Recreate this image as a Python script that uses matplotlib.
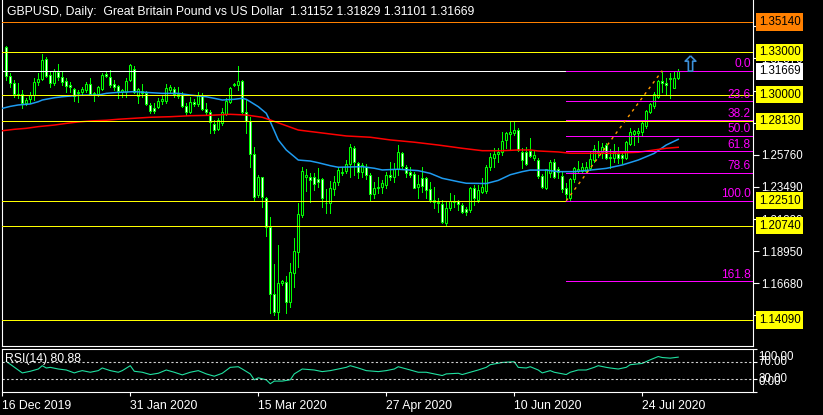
import numpy as np
import matplotlib
matplotlib.use("Agg")
import matplotlib.pyplot as plt
from matplotlib.path import Path
from matplotlib.transforms import blended_transform_factory

# daily candles, bar 1 = 17 Dec 2019 (bar 0, 16 Dec, sits on the left border)
opens = [
    1.3335, 1.3133, 1.3081, 1.3005, 1.3005, 1.2940, 1.2968, 1.2998, 1.3093, 1.3110,
    1.3250, 1.3140, 1.3081, 1.3163, 1.3123, 1.3095, 1.3069, 1.3041, 1.3010, 1.3022,
    1.3034, 1.3076, 1.3005, 1.3005, 1.3039, 1.3147, 1.3123, 1.3076, 1.3064, 1.3022,
    1.3022, 1.3104, 1.3180, 1.2991, 1.3029, 1.3010, 1.2928, 1.2909, 1.2916, 1.2954,
    1.2958, 1.3034, 1.3039, 1.3003, 1.2998, 1.2921, 1.2880, 1.2951, 1.2933, 1.2998,
    1.2897, 1.2880, 1.2793, 1.2756, 1.2800, 1.2864, 1.2951, 1.3069, 1.3069, 1.3097,
    1.2880, 1.2817, 1.2579, 1.2292, 1.2419, 1.2273, 1.2064, 1.1590, 1.1468, 1.1670,
    1.1680, 1.1538, 1.1743, 1.1891, 1.2151, 1.2421, 1.2417, 1.2417, 1.2403, 1.2403,
    1.2238, 1.2238, 1.2332, 1.2382, 1.2445, 1.2464, 1.2511, 1.2622, 1.2516, 1.2457,
    1.2492, 1.2433, 1.2297, 1.2339, 1.2351, 1.2363, 1.2433, 1.2421, 1.2473, 1.2587,
    1.2492, 1.2457, 1.2438, 1.2346, 1.2410, 1.2410, 1.2334, 1.2256, 1.2240, 1.2226,
    1.2092, 1.2198, 1.2240, 1.2249, 1.2221, 1.2193, 1.2186, 1.2339, 1.2256, 1.2315,
    1.2320, 1.2492, 1.2551, 1.2579, 1.2598, 1.2680, 1.2721, 1.2728, 1.2751, 1.2593,
    1.2598, 1.2602, 1.2556, 1.2539, 1.2426, 1.2339, 1.2445, 1.2523, 1.2475, 1.2429,
    1.2344, 1.2270, 1.2405, 1.2461, 1.2461, 1.2461, 1.2482, 1.2539, 1.2591, 1.2593,
    1.2645, 1.2563, 1.2555, 1.2581, 1.2574, 1.2551, 1.2650, 1.2721, 1.2728, 1.2735,
    1.2782, 1.2880, 1.2923, 1.2986, 1.3097, 1.3081, 1.3111, 1.3050, 1.31152,
]
highs = [
    1.3344, 1.3152, 1.3104, 1.3081, 1.3034, 1.2975, 1.3022, 1.3117, 1.3152, 1.3288,
    1.3269, 1.3163, 1.3182, 1.3217, 1.3170, 1.3117, 1.3093, 1.3046, 1.3034, 1.3057,
    1.3088, 1.3117, 1.3022, 1.3062, 1.3156, 1.3161, 1.3175, 1.3104, 1.3069, 1.3039,
    1.3117, 1.3217, 1.3203, 1.3046, 1.3076, 1.3029, 1.2944, 1.2940, 1.2977, 1.2991,
    1.3076, 1.3069, 1.3057, 1.3053, 1.3022, 1.2944, 1.2982, 1.2970, 1.3022, 1.3010,
    1.2944, 1.2892, 1.2822, 1.2834, 1.2904, 1.2975, 1.3057, 1.3081, 1.3203, 1.3104,
    1.2968, 1.2845, 1.2631, 1.2433, 1.2421, 1.2280, 1.2136, 1.1805, 1.1939, 1.1692,
    1.1720, 1.1810, 1.1986, 1.2233, 1.2492, 1.2473, 1.2445, 1.2450, 1.2482, 1.2410,
    1.2332, 1.2391, 1.2426, 1.2488, 1.2488, 1.2539, 1.2652, 1.2638, 1.2528, 1.2516,
    1.2511, 1.2445, 1.2386, 1.2421, 1.2397, 1.2457, 1.2528, 1.2516, 1.2645, 1.2598,
    1.2503, 1.2492, 1.2457, 1.2433, 1.2492, 1.2421, 1.2386, 1.2351, 1.2269, 1.2256,
    1.2245, 1.2304, 1.2292, 1.2256, 1.2233, 1.2209, 1.2351, 1.2363, 1.2363, 1.2410,
    1.2503, 1.2587, 1.2622, 1.2622, 1.2739, 1.2739, 1.2810, 1.2810, 1.2763, 1.2622,
    1.2633, 1.2692, 1.2602, 1.2555, 1.2438, 1.2475, 1.2539, 1.2546, 1.2492, 1.2457,
    1.2375, 1.2414, 1.2492, 1.2532, 1.2518, 1.2527, 1.2598, 1.2645, 1.2673, 1.2657,
    1.2657, 1.2617, 1.2650, 1.2633, 1.2587, 1.2673, 1.2768, 1.2751, 1.2763, 1.2810,
    1.2892, 1.2944, 1.3017, 1.3104, 1.3168, 1.3117, 1.3152, 1.3163, 1.31829,
]
lows = [
    1.3104, 1.3057, 1.2986, 1.2975, 1.2904, 1.2928, 1.2940, 1.2963, 1.3069, 1.3104,
    1.3128, 1.3057, 1.3069, 1.3104, 1.3069, 1.3022, 1.3022, 1.2958, 1.2951, 1.2998,
    1.3022, 1.2998, 1.2958, 1.2991, 1.3034, 1.3123, 1.3057, 1.3034, 1.2975, 1.2986,
    1.2986, 1.3097, 1.3012, 1.2940, 1.2986, 1.2928, 1.2869, 1.2873, 1.2907, 1.2935,
    1.2944, 1.3015, 1.2982, 1.2975, 1.2916, 1.2857, 1.2869, 1.2921, 1.2921, 1.2892,
    1.2857, 1.2728, 1.2728, 1.2751, 1.2786, 1.2857, 1.2940, 1.3062, 1.3034, 1.2869,
    1.2728, 1.2492, 1.2256, 1.2280, 1.2205, 1.2002, 1.1456, 1.1444, 1.1409, 1.1656,
    1.1456, 1.1503, 1.1644, 1.1781, 1.2134, 1.2322, 1.2245, 1.2327, 1.2351, 1.2209,
    1.2167, 1.2167, 1.2292, 1.2363, 1.2433, 1.2450, 1.2417, 1.2433, 1.2410, 1.2421,
    1.2403, 1.2256, 1.2269, 1.2304, 1.2304, 1.2339, 1.2397, 1.2386, 1.2433, 1.2473,
    1.2421, 1.2421, 1.2339, 1.2269, 1.2315, 1.2269, 1.2245, 1.2198, 1.2174, 1.2092,
    1.2080, 1.2186, 1.2209, 1.2186, 1.2162, 1.2151, 1.2174, 1.2221, 1.2245, 1.2304,
    1.2304, 1.2468, 1.2492, 1.2528, 1.2574, 1.2622, 1.2617, 1.2716, 1.2603, 1.2481,
    1.2503, 1.2563, 1.2539, 1.2410, 1.2344, 1.2336, 1.2421, 1.2414, 1.2410, 1.2315,
    1.2251, 1.2258, 1.2386, 1.2452, 1.2447, 1.2452, 1.2468, 1.2527, 1.2563, 1.2551,
    1.2546, 1.2482, 1.2523, 1.2516, 1.2516, 1.2546, 1.2645, 1.2645, 1.2664, 1.2716,
    1.2768, 1.2869, 1.2904, 1.2979, 1.3022, 1.3003, 1.2979, 1.3046, 1.31101,
]
closes = [
    1.3133, 1.3081, 1.3005, 1.2998, 1.2940, 1.2963, 1.2998, 1.3088, 1.3110, 1.3246,
    1.3133, 1.3081, 1.3170, 1.3123, 1.3093, 1.3064, 1.3057, 1.2993, 1.3022, 1.3041,
    1.3076, 1.3005, 1.3013, 1.3057, 1.3140, 1.3133, 1.3069, 1.3057, 1.3029, 1.3034,
    1.3097, 1.3210, 1.3022, 1.3039, 1.3010, 1.2933, 1.2887, 1.2887, 1.2958, 1.2968,
    1.3046, 1.3053, 1.3003, 1.2993, 1.2923, 1.2878, 1.2951, 1.2933, 1.2998, 1.2897,
    1.2880, 1.2810, 1.2751, 1.2822, 1.2880, 1.2958, 1.3046, 1.3076, 1.3097, 1.2880,
    1.2817, 1.2579, 1.2280, 1.2419, 1.2280, 1.2064, 1.1590, 1.1468, 1.1670, 1.1685,
    1.1538, 1.1746, 1.1896, 1.2158, 1.2461, 1.2433, 1.2397, 1.2370, 1.2382, 1.2273,
    1.2234, 1.2339, 1.2382, 1.2468, 1.2457, 1.2509, 1.2633, 1.2528, 1.2457, 1.2503,
    1.2433, 1.2297, 1.2339, 1.2351, 1.2375, 1.2433, 1.2421, 1.2473, 1.2598, 1.2499,
    1.2445, 1.2433, 1.2344, 1.2369, 1.2358, 1.2327, 1.2256, 1.2240, 1.2233, 1.2103,
    1.2198, 1.2249, 1.2249, 1.2226, 1.2169, 1.2174, 1.2339, 1.2269, 1.2327, 1.2348,
    1.2492, 1.2558, 1.2579, 1.2598, 1.2673, 1.2728, 1.2735, 1.2751, 1.2610, 1.2539,
    1.2509, 1.2570, 1.2574, 1.2426, 1.2351, 1.2475, 1.2523, 1.2421, 1.2452, 1.2334,
    1.2297, 1.2405, 1.2482, 1.2475, 1.2489, 1.2492, 1.2546, 1.2617, 1.2598, 1.2629,
    1.2555, 1.2555, 1.2593, 1.2551, 1.2551, 1.2664, 1.2739, 1.2744, 1.2744, 1.2800,
    1.2885, 1.2935, 1.3005, 1.3097, 1.3081, 1.3069, 1.3117, 1.3121, 1.31669,
]

# moving averages at a few bars
blue_ma_x = [0, 2, 4, 7, 9, 10, 13, 15, 19, 24, 26, 29, 33, 37, 40, 44, 47, 51, 53, 55,
             58, 60, 61, 62, 64, 66, 67, 68, 69, 71, 73, 74, 77, 79, 82, 84, 90, 93, 95, 99,
             104, 107, 110, 114, 116, 121, 124, 127, 130, 132, 136, 139, 143, 147, 151, 155,
             159, 163, 166, 169]
blue_ma_y = [1.2904, 1.2918, 1.2928, 1.2935, 1.2951, 1.2963, 1.2979, 1.2986, 1.2996, 1.2998,
             1.3010, 1.3017, 1.3022, 1.3015, 1.3010, 1.3010, 1.2998, 1.2986, 1.2975, 1.2963,
             1.2968, 1.2975, 1.2968, 1.2951, 1.2916, 1.2869, 1.2810, 1.2746, 1.2681, 1.2610,
             1.2563, 1.2539, 1.2532, 1.2520, 1.2499, 1.2488, 1.2492, 1.2481, 1.2469, 1.2474,
             1.2464, 1.2445, 1.2410, 1.2386, 1.2375, 1.2373, 1.2395, 1.2435, 1.2457, 1.2468,
             1.2468, 1.2457, 1.2457, 1.2468, 1.2480, 1.2504, 1.2539, 1.2586, 1.2645, 1.2685]
red_ma_x = [0, 3, 6, 9, 13, 16, 19, 22, 26, 29, 33, 37, 42, 47, 52, 57, 61, 65, 67, 74,
            82, 86, 92, 97, 103, 109, 115, 120, 125, 129, 132, 134, 139, 142, 153, 159, 163,
            166, 169]
red_ma_y = [1.2746, 1.2756, 1.2763, 1.2775, 1.2786, 1.2798, 1.2808, 1.2815, 1.2820, 1.2827,
            1.2834, 1.2841, 1.2845, 1.2852, 1.2855, 1.2862, 1.2857, 1.2841, 1.2822, 1.2751,
            1.2723, 1.2709, 1.2700, 1.2681, 1.2665, 1.2645, 1.2622, 1.2605, 1.2605, 1.2610,
            1.2610, 1.2603, 1.2596, 1.2587, 1.2587, 1.2594, 1.2610, 1.2622, 1.2629]

# RSI(14) sub window
rsi_x = [1, 5, 7, 9, 10, 11, 12, 14, 16, 18, 19, 20, 22, 24, 25, 27, 29, 30, 32, 33,
         35, 37, 39, 41, 43, 45, 47, 49, 50, 51, 53, 55, 57, 59, 60, 62, 63, 64, 66, 67,
         68, 70, 72, 73, 75, 78, 80, 82, 84, 86, 87, 89, 91, 94, 96, 98, 99, 102, 104, 106,
         108, 110, 111, 114, 115, 117, 119, 121, 122, 125, 128, 129, 131, 132, 134, 135, 137, 138,
         141, 142, 144, 146, 148, 149, 151, 152, 154, 156, 157, 160, 162, 164, 165, 167, 169]
rsi_y = [70.8, 43.8, 47.7, 53.0, 60.8, 55.4, 56.9, 53.0, 50.7, 43.8, 46.9, 49.2, 45.4, 49.2,
         55.4, 49.2, 45.4, 49.2, 60.8, 47.7, 45.4, 40.0, 43.0, 50.7, 45.4, 39.2, 45.4, 49.2,
         45.4, 41.5, 36.1, 43.0, 56.9, 58.4, 53.0, 41.5, 27.6, 32.3, 27.6, 18.4, 24.6, 24.6,
         27.6, 41.5, 53.0, 50.7, 46.9, 49.2, 53.0, 56.9, 60.8, 55.4, 49.2, 46.9, 49.2, 53.0,
         58.4, 50.7, 45.4, 45.4, 41.5, 37.7, 41.5, 43.0, 40.0, 45.4, 50.7, 56.9, 63.1, 68.4,
         70.0, 56.9, 55.4, 58.4, 50.7, 43.8, 49.2, 45.4, 40.0, 45.4, 50.7, 50.7, 56.9, 60.8,
         56.9, 55.4, 53.0, 56.9, 63.1, 66.1, 74.6, 82.3, 80.0, 78.5, 80.88]
rsi_levels = [70, 30]

# horizontal lines and price scale
price_ticks = [1.14410, 1.16680, 1.18950, 1.21220, 1.23490, 1.25760, 1.28030, 1.30300, 1.32570, 1.34840]
yellow_levels = [1.33000, 1.30000, 1.28130, 1.22510, 1.20740, 1.14090]
orange_level = 1.35140
bid_price = 1.31669

# fibonacci retracement drawn from the late-June low to the August high
fib_low, fib_high = 1.2251, 1.3170
fib_start, fib_end = 141, 165
fib_levels = [0.0, 23.6, 38.2, 50.0, 61.8, 78.6, 100.0, 161.8]

arrow_bar, arrow_price = 172, 1.3224

date_pos = [0, 32, 64, 96, 128, 160]
date_labels = ["16 Dec 2019", "31 Jan 2020", "15 Mar 2020", "27 Apr 2020", "10 Jun 2020", "24 Jul 2020"]

title = "GBPUSD, Daily:  Great Britain Pound vs US Dollar  1.31152 1.31829 1.31101 1.31669"

GREEN, YELLOW, ORANGE, MAGENTA = "#00ff00", "#ffff00", "#ff8000", "#ff00ff"
BLUE, RED, RSI_COL = "#1e9bf0", "#ff0000", "#20e0a0"
FS = 8.3
PX = 0.72  # one pixel in points
plt.rcParams["font.family"] = ["Liberation Sans", "DejaVu Sans"]

W, H = 823, 415
X_MIN, X_MAX = -0.075, 187.7
fig = plt.figure(figsize=(W / 100, H / 100), dpi=100, facecolor="black")
ax = fig.add_axes([2 / W, 1 - 346 / H, 751 / W, 346 / H], facecolor="black")
rax = fig.add_axes([2 / W, 1 - 392 / H, 751 / W, 43 / H], facecolor="black")

for a in (ax, rax):
    a.set_xlim(X_MIN, X_MAX)
    for s in a.spines.values():
        s.set_color("white")
        s.set_linewidth(0.8)
ax.spines["top"].set_visible(False)

# candles: white body = falling day, black body = rising day
o, h, l, c = (np.array(v) for v in (opens, highs, lows, closes))
idx = np.arange(1, len(o) + 1)
fills = ["white" if cc < oo else "black" for oo, cc in zip(o, c)]
ax.vlines(idx, l, h, color=GREEN, lw=PX, zorder=2, antialiased=False)
ax.bar(idx, np.abs(c - o), bottom=np.minimum(o, c), width=0.5, color=fills,
       edgecolor=GREEN, linewidth=0.75, zorder=3)

ax.plot(blue_ma_x, blue_ma_y, color=BLUE, lw=1.1, zorder=4)
ax.plot(red_ma_x, red_ma_y, color=RED, lw=1.1, zorder=4)

for lv in yellow_levels:
    ax.axhline(lv, color=YELLOW, lw=PX, zorder=5, antialiased=False)
ax.axhline(orange_level, color=ORANGE, lw=PX, zorder=5, antialiased=False)
ax.axhline(bid_price, color="white", lw=PX, zorder=5, antialiased=False)

fib_prices = [fib_high - f / 100 * (fib_high - fib_low) for f in fib_levels]
ax.hlines(fib_prices, fib_start, X_MAX, color=MAGENTA, lw=PX, zorder=5, antialiased=False)
ax.plot([fib_start, fib_end], [fib_low, fib_high], color="#ff9900", lw=1.0,
        ls=(0, (2, 3)), zorder=5)
trans = blended_transform_factory(ax.transAxes, ax.transData)
for f, p in zip(fib_levels, fib_prices):
    ax.annotate(f"{f:.1f}", xy=(1, p), xycoords=trans, xytext=(-1.5, 2.5),
                textcoords="offset points", ha="right", va="baseline",
                color=MAGENTA, fontsize=FS + 0.3, zorder=6)

up_arrow = Path([(0, 1), (0.7, 0.3), (0.28, 0.3), (0.28, -1), (-0.28, -1),
                 (-0.28, 0.3), (-0.7, 0.3), (0, 1)])
ax.plot(arrow_bar, arrow_price, marker=up_arrow, markersize=11, mfc="none",
        mec="#3c8fd8", mew=1.2, zorder=6, clip_on=False)

ax.set_ylim(1.12254, 1.36694)
ax.yaxis.tick_right()
ax.set_yticks(price_ticks)
ax.set_yticklabels([f"{p:.5f}" for p in price_ticks])
ax.tick_params(axis="y", colors="white", length=4, width=0.8, pad=2, labelsize=FS)
ax.tick_params(axis="x", bottom=False, labelbottom=False)

boxes = [(orange_level, ORANGE), (bid_price, "white")] + [(lv, YELLOW) for lv in yellow_levels]
for p, col in boxes:
    ax.text(1 + 6 / 751, p, f"{p:.5f}", transform=trans, ha="left", va="center",
            fontsize=FS, color="black", clip_on=False, zorder=10,
            bbox=dict(boxstyle="square,pad=0.22", fc=col, ec="none"))

fig.text(7 / W, 1 - 12 / H, title, color="white", fontsize=8.8, va="center")

# RSI window
rax.plot(rsi_x, rsi_y, color=RSI_COL, lw=0.8)
for lv in rsi_levels:
    rax.axhline(lv, color="#d0d0d0", lw=0.8, ls=(0, (2, 2)))
rax.set_ylim(-1, 98.5)
rax.yaxis.tick_right()
rax.set_yticks([0, 30, 70, 100])
rax.set_yticklabels([])
rax.tick_params(axis="y", colors="white", length=3, width=0.8)
rtrans = blended_transform_factory(rax.transAxes, rax.transData)
for val, dy in [(100, -6), (70, 0), (30, 0), (0, 7)]:
    rax.annotate(f"{val:.2f}", xy=(1, val), xycoords=rtrans, xytext=(4, dy),
                 textcoords="offset points", ha="left", va="center", color="white",
                 fontsize=FS, annotation_clip=False)
rax.text(3 / 751, 0.77, "RSI(14) 80.88", transform=rax.transAxes, color="white",
         fontsize=8.8, va="center", ha="left")

rax.set_xticks(date_pos)
rax.set_xticklabels(date_labels, ha="left")
rax.tick_params(axis="x", colors="white", length=3, width=0.8, pad=3, labelsize=8.8)

fig.savefig("out.png", dpi=100, facecolor="black")
